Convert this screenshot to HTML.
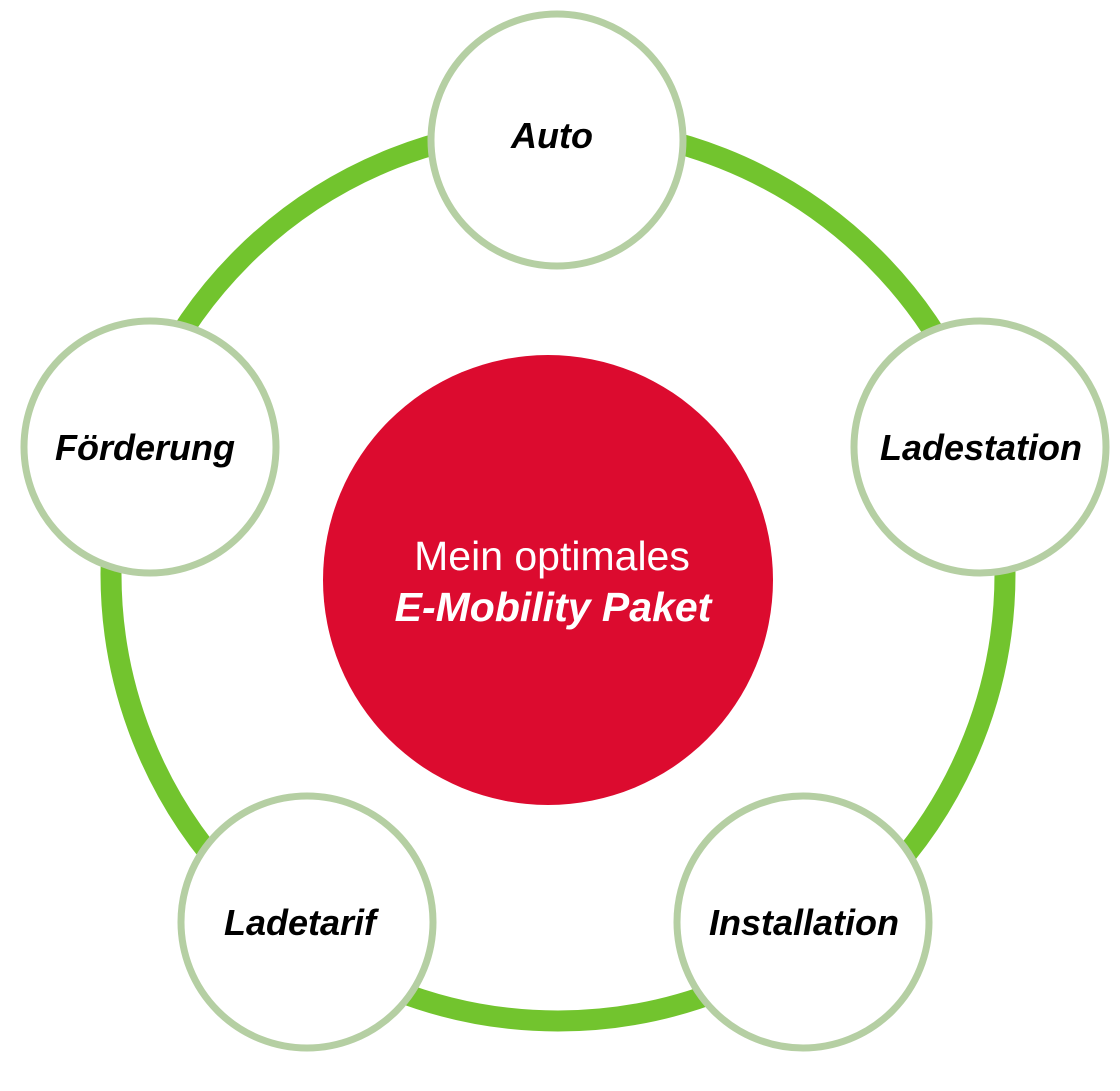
<!DOCTYPE html>
<html><head><meta charset="utf-8"><style>
html,body{margin:0;padding:0;background:#fff;}
svg{display:block;}
text{font-family:"Liberation Sans",sans-serif;}
</style></head><body>
<svg width="1120" height="1091" viewBox="0 0 1120 1091" xmlns="http://www.w3.org/2000/svg">
<circle cx="558" cy="574" r="447" fill="none" stroke="#72c42e" stroke-width="21"/>
<circle cx="548" cy="580" r="225" fill="#dc0b2f"/>
<g fill="#fff" stroke="#b5cfa3" stroke-width="7">
<circle cx="557" cy="140" r="126"/>
<circle cx="980" cy="447" r="126"/>
<circle cx="150" cy="447" r="126"/>
<circle cx="307" cy="922" r="126"/>
<circle cx="803" cy="922" r="126"/>
</g>
<g font-size="36" font-weight="bold" font-style="italic" text-anchor="middle" fill="#000">
<text x="552" y="148">Auto</text>
<text x="981" y="460">Ladestation</text>
<text x="145" y="460">Förderung</text>
<text x="300" y="935">Ladetarif</text>
<text x="804" y="935">Installation</text>
</g>
<text x="552" y="570" font-size="41" fill="#fff" text-anchor="middle">Mein optimales</text>
<text x="553" y="621" font-size="41" font-weight="bold" font-style="italic" fill="#fff" text-anchor="middle">E-Mobility Paket</text>
</svg>
</body></html>
